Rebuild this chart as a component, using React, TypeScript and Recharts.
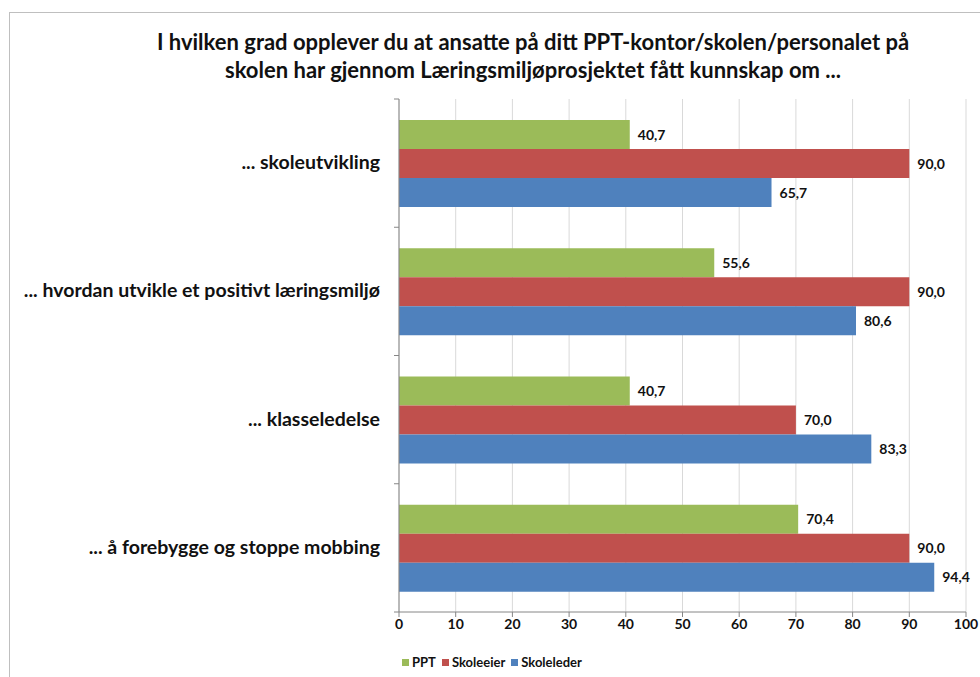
import { BarChart, Bar, XAxis, YAxis, CartesianGrid, Legend, LabelList } from 'recharts'

const categories = [
  '... skoleutvikling',
  '... hvordan utvikle et positivt læringsmiljø',
  '... klasseledelse',
  '... å forebygge og stoppe mobbing',
]
const ppt = [40.7, 55.6, 40.7, 70.4]
const skoleeier = [90.0, 90.0, 70.0, 90.0]
const skoleleder = [65.7, 80.6, 83.3, 94.4]
const xTicks = [0, 10, 20, 30, 40, 50, 60, 70, 80, 90, 100]

const series = [
  { key: 'ppt', name: 'PPT', color: '#9BBB59' },
  { key: 'skoleeier', name: 'Skoleeier', color: '#C0504D' },
  { key: 'skoleleder', name: 'Skoleleder', color: '#4F81BD' },
]

const data = categories.map((c, i) => ({
  category: c,
  ppt: ppt[i],
  skoleeier: skoleeier[i],
  skoleleder: skoleleder[i],
}))

const FONT = 'Lato, "Open Sans", sans-serif'
const PLOT_TOP = 99
const PLOT_BOTTOM = 612
const HALF_BAND = (PLOT_BOTTOM - PLOT_TOP) / categories.length / 2

const fmt = (v: number) => v.toFixed(1).replace('.', ',')

// category label plus the small boundary ticks Excel draws between groups
function CategoryTick(props: any) {
  const { x, y, payload, index } = props
  const axisX = x + 8
  return (
    <g>
      <line x1={axisX - 5} x2={axisX} y1={y - HALF_BAND} y2={y - HALF_BAND} stroke="#868686" />
      {index === categories.length - 1 && (
        <line x1={axisX - 5} x2={axisX} y1={y + HALF_BAND} y2={y + HALF_BAND} stroke="#868686" />
      )}
      <text x={x - 11} y={y} dy={6} textAnchor="end" fontSize={19.5} fontWeight={700} fill="#111" fontFamily={FONT}>
        {payload.value}
      </text>
    </g>
  )
}

function LegendContent() {
  return (
    <div style={{ display: 'flex', alignItems: 'center', height: 20, fontFamily: FONT, fontSize: 13, fontWeight: 700, color: '#111' }}>
      {series.map(s => (
        <span key={s.key} style={{ display: 'flex', alignItems: 'center', marginRight: 6 }}>
          <span style={{ width: 7, height: 7, background: s.color, marginRight: 3 }} />
          {s.name}
        </span>
      ))}
    </div>
  )
}

export default function App() {
  return (
    <div style={{ position: 'absolute', left: 0, top: 0, width: 980, height: 677, overflow: 'hidden', background: '#fff' }}>
      <div
        style={{
          position: 'absolute',
          left: 9,
          top: 12,
          width: 1000,
          height: 700,
          border: '1px solid #bfbfbf',
          boxShadow: '1px 1px 1px #e0e0e0',
        }}
      />
      <div
        style={{
          position: 'absolute',
          left: 100,
          width: 866,
          top: 28,
          textAlign: 'center',
          fontFamily: FONT,
          fontWeight: 700,
          fontSize: 22,
          lineHeight: '28px',
          color: '#111',
        }}
      >
        I hvilken grad opplever du at ansatte på ditt PPT-kontor/skolen/personalet på
        <br />
        skolen har gjennom Læringsmiljøprosjektet fått kunnskap om ...
      </div>
      <div style={{ position: 'absolute', left: 0, top: 0 }}>
        <BarChart
          width={980}
          height={677}
          data={data}
          layout="vertical"
          margin={{ top: PLOT_TOP, right: 14, bottom: 15, left: 0 }}
          barCategoryGap="16.4%"
          barGap={0}
        >
          <CartesianGrid horizontal={false} stroke="#d9d9d9" />
          <XAxis
            type="number"
            domain={[0, 100]}
            ticks={xTicks}
            interval={0}
            height={30}
            stroke="#868686"
            tickSize={5}
            tick={{ fontSize: 14, fontWeight: 700, fill: '#111', fontFamily: FONT }}
          />
          <YAxis
            type="category"
            dataKey="category"
            width={399}
            stroke="#868686"
            tickLine={false}
            tick={<CategoryTick />}
          />
          <Legend
            verticalAlign="bottom"
            content={<LegendContent />}
            wrapperStyle={{ left: 402, bottom: 5, width: 300 }}
          />
          {series.map(s => (
            <Bar key={s.key} dataKey={s.key} name={s.name} fill={s.color} isAnimationActive={false}>
              <LabelList
                dataKey={s.key}
                position="right"
                offset={8}
                formatter={(v: any) => fmt(Number(v))}
                style={{ fontSize: 14, fontWeight: 700, fill: '#111', fontFamily: FONT }}
              />
            </Bar>
          ))}
        </BarChart>
      </div>
    </div>
  )
}
